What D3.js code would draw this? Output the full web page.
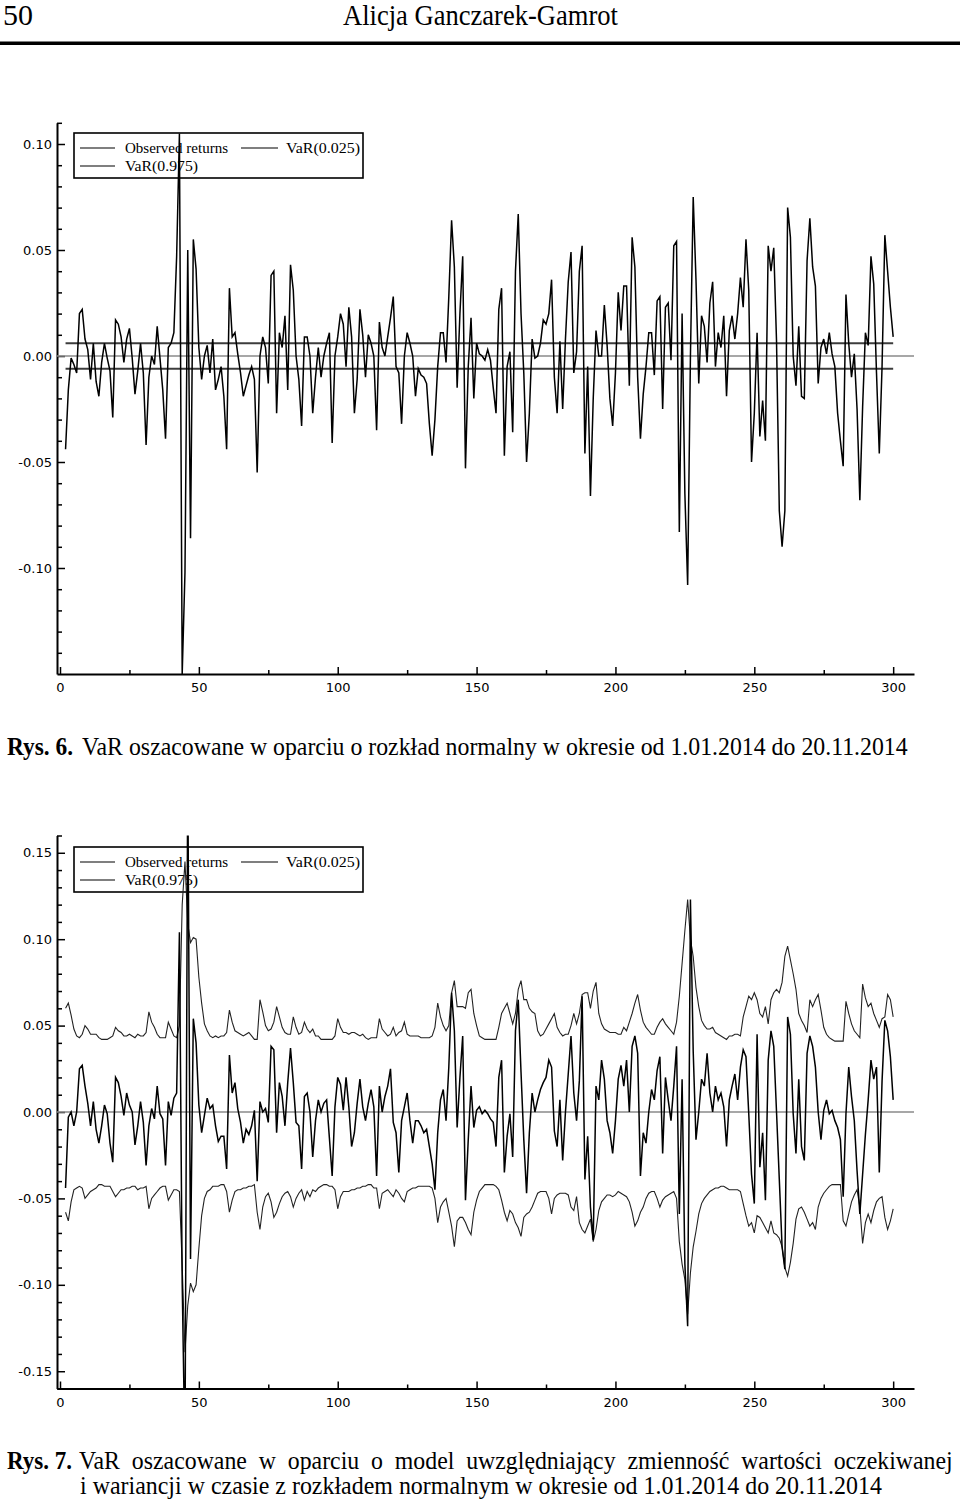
<!DOCTYPE html>
<html><head><meta charset="utf-8">
<script src="https://cdn.jsdelivr.net/npm/d3@7/dist/d3.min.js"></script>
<style>
body{margin:0;background:#fff}
svg{display:block}
</style></head><body>
<svg id="page" width="960" height="1501"></svg>
<script>
// ---------------- data ----------------
const xTicks = [0, 50, 100, 150, 200, 250, 300];
const xMinorTicks = [25, 75, 125, 175, 225, 275];
const yTicks1 = [-0.10, -0.05, 0.00, 0.05, 0.10];
const yTicks2 = [-0.15, -0.10, -0.05, 0.00, 0.05, 0.10, 0.15];
const legendLabels = ["Observed returns", "VaR(0.025)", "VaR(0.975)"];
const firstIndex = 2; // first observation index (x value)

// Rys. 6 — observed returns (index 2..300)
const obs1 = [
-0.044,-0.016,-0.001,-0.004,-0.008,0.020,0.022,0.008,0.003,-0.011,
0.006,-0.012,-0.019,-0.003,0.006,-0.001,-0.007,-0.029,0.017,0.015,
0.009,-0.003,0.008,0.013,-0.001,-0.018,-0.007,0.006,-0.008,-0.042,
-0.010,0.000,-0.004,0.014,-0.001,-0.016,-0.039,0.004,0.006,0.011,
0.047,0.105,-0.150,-0.102,0.050,-0.086,0.055,0.041,0.004,-0.011,
0.000,0.005,-0.008,0.008,-0.016,-0.011,-0.005,-0.019,-0.044,0.032,
0.009,0.011,0.001,-0.008,-0.019,-0.014,-0.009,-0.005,-0.011,-0.055,
0.000,0.009,0.004,-0.013,0.038,0.040,-0.027,0.011,0.004,0.019,
-0.016,0.043,0.031,0.000,-0.011,-0.033,0.009,0.009,0.000,-0.027,
-0.010,0.004,-0.010,0.000,0.006,0.011,-0.041,0.000,0.009,0.020,
0.015,-0.005,0.023,0.009,-0.027,-0.011,0.022,0.010,-0.010,0.010,
0.006,0.000,-0.035,0.016,0.004,0.000,0.009,0.018,0.028,-0.005,
-0.008,-0.032,0.000,0.011,0.006,0.000,-0.019,-0.006,-0.009,-0.010,
-0.013,-0.032,-0.047,-0.030,-0.005,0.011,0.011,-0.003,0.028,0.064,
0.042,-0.015,0.020,0.047,-0.053,-0.005,0.018,-0.020,0.006,0.001,
0.000,-0.002,0.003,-0.002,-0.015,-0.027,0.022,0.032,-0.047,-0.005,
0.002,-0.036,0.040,0.067,0.020,-0.008,-0.050,-0.027,0.008,-0.001,
0.000,0.006,0.017,0.015,0.020,0.036,-0.010,-0.027,0.007,-0.025,
0.008,0.035,0.049,-0.008,0.002,0.040,0.052,-0.046,-0.005,-0.066,
-0.020,0.012,0.000,0.000,0.024,0.005,-0.020,-0.033,-0.008,0.030,
0.012,0.033,0.033,-0.014,0.056,0.042,-0.010,-0.039,-0.018,-0.005,
0.011,0.011,-0.009,0.026,0.028,-0.025,0.023,0.025,-0.002,0.052,
0.054,-0.083,0.020,-0.065,-0.108,0.000,0.075,0.036,-0.013,0.019,
0.014,-0.003,0.025,0.035,-0.005,0.011,0.004,0.019,-0.019,0.012,
0.019,0.008,0.020,0.037,0.023,0.055,0.031,-0.050,-0.027,0.011,
-0.038,-0.021,-0.040,0.052,0.040,0.051,0.007,-0.073,-0.090,-0.073,
0.070,0.056,0.000,-0.014,0.014,-0.019,-0.020,0.045,0.065,0.042,
0.033,-0.013,0.004,0.008,0.001,0.011,0.001,-0.005,-0.027,-0.040,
-0.052,0.029,0.006,-0.010,0.001,-0.025,-0.068,-0.024,0.011,0.005,
0.047,0.034,-0.008,-0.046,-0.005,0.057,0.040,0.023,0.009
];
// Rys. 6 — constant VaR levels
const var1Low = -0.006;
const var1High = 0.006;

// Rys. 7 — observed returns (index 2..300)
const obs2 = [
-0.044,-0.003,0.000,-0.008,0.000,0.025,0.027,0.015,0.005,-0.008,
0.006,-0.010,-0.018,-0.008,0.004,-0.001,-0.018,-0.029,0.020,0.017,
0.009,-0.002,0.011,0.004,0.000,-0.019,-0.008,0.006,-0.006,-0.031,
-0.008,0.002,-0.004,0.015,-0.001,-0.004,-0.031,0.006,-0.002,0.008,
0.011,0.104,-0.099,-0.200,0.200,-0.085,0.054,0.040,0.004,-0.012,
-0.002,0.008,0.002,0.004,-0.008,-0.017,-0.014,-0.014,-0.033,0.033,
0.011,0.017,0.002,-0.006,-0.018,-0.010,-0.013,-0.008,0.001,-0.040,
0.006,0.000,0.002,-0.006,0.038,0.036,-0.012,0.017,0.009,-0.008,
0.017,0.037,0.017,-0.006,-0.008,-0.033,0.009,0.011,0.000,-0.026,
-0.005,0.007,0.000,0.005,0.007,-0.015,-0.037,0.003,0.020,0.016,
0.001,0.020,0.003,-0.020,-0.012,0.005,0.019,0.003,-0.005,0.005,
0.013,0.003,-0.037,0.015,0.000,0.009,0.015,0.025,-0.006,-0.012,
-0.035,-0.005,0.003,0.011,-0.005,-0.018,-0.005,-0.005,-0.008,-0.012,
-0.010,-0.020,-0.030,-0.045,-0.012,0.007,0.013,-0.005,0.026,0.069,
0.047,-0.009,0.020,0.044,-0.051,-0.016,0.015,-0.009,0.001,0.003,
-0.001,0.001,-0.001,-0.004,-0.006,-0.020,0.020,0.030,-0.035,-0.014,
-0.001,-0.026,0.047,0.065,0.023,-0.016,-0.047,-0.012,0.011,0.000,
0.007,0.013,0.017,0.020,0.030,0.026,-0.011,-0.020,0.007,-0.028,
0.000,0.022,0.044,0.011,-0.005,0.018,0.067,-0.039,-0.014,-0.055,
-0.074,0.015,0.007,0.030,0.019,-0.005,-0.012,-0.024,-0.005,0.019,
0.027,0.015,0.030,0.000,0.038,0.044,0.034,-0.037,-0.012,-0.018,
0.000,0.013,0.007,0.024,0.032,-0.024,0.020,0.007,-0.005,0.015,
0.038,-0.059,0.019,-0.088,-0.124,0.123,0.035,-0.016,0.000,0.019,
0.015,0.034,0.011,0.000,0.015,0.007,0.011,0.003,-0.020,0.007,
0.015,0.022,0.007,0.026,0.036,0.032,-0.001,-0.036,-0.053,0.045,
-0.032,-0.012,-0.051,0.030,0.047,0.038,0.000,-0.039,-0.078,-0.091,
0.055,0.045,-0.001,-0.024,0.019,-0.020,-0.028,0.034,0.044,0.038,
0.026,0.000,-0.016,0.001,0.007,-0.001,0.001,-0.005,-0.009,-0.016,
-0.049,-0.001,0.026,0.009,-0.005,-0.034,-0.059,-0.036,-0.013,0.007,
0.030,0.019,0.026,-0.035,0.018,0.053,0.047,0.032,0.007
];
// Rys. 7 — VaR(0.975) upper band
const var2High = [
0.060,0.063,0.056,0.048,0.044,0.043,0.045,0.050,0.048,0.045,
0.045,0.045,0.043,0.042,0.042,0.042,0.043,0.044,0.049,0.047,
0.046,0.044,0.044,0.045,0.044,0.043,0.045,0.044,0.044,0.046,
0.058,0.052,0.049,0.045,0.043,0.043,0.043,0.052,0.048,0.044,
0.043,0.050,0.120,0.145,0.109,0.098,0.101,0.100,0.078,0.063,
0.051,0.047,0.044,0.043,0.044,0.043,0.044,0.044,0.046,0.059,
0.052,0.047,0.046,0.045,0.044,0.045,0.046,0.044,0.042,0.042,
0.065,0.058,0.050,0.047,0.048,0.052,0.061,0.055,0.049,0.046,
0.045,0.045,0.055,0.049,0.045,0.046,0.052,0.048,0.046,0.048,
0.044,0.044,0.042,0.042,0.042,0.042,0.042,0.044,0.054,0.049,
0.046,0.046,0.045,0.046,0.046,0.045,0.044,0.045,0.043,0.042,
0.043,0.043,0.043,0.054,0.048,0.046,0.044,0.045,0.049,0.044,
0.046,0.047,0.052,0.045,0.044,0.044,0.044,0.044,0.043,0.043,
0.043,0.043,0.044,0.049,0.063,0.055,0.050,0.047,0.050,0.069,
0.076,0.061,0.061,0.061,0.060,0.069,0.071,0.057,0.050,0.044,
0.043,0.042,0.042,0.042,0.042,0.042,0.049,0.057,0.060,0.063,
0.057,0.051,0.057,0.071,0.076,0.065,0.065,0.060,0.058,0.057,
0.047,0.044,0.045,0.048,0.051,0.054,0.057,0.049,0.046,0.044,
0.045,0.045,0.050,0.057,0.051,0.057,0.068,0.069,0.069,0.060,
0.070,0.075,0.057,0.051,0.048,0.047,0.046,0.046,0.046,0.045,
0.045,0.049,0.047,0.052,0.057,0.063,0.068,0.059,0.052,0.049,
0.047,0.045,0.045,0.049,0.052,0.054,0.051,0.049,0.047,0.045,
0.052,0.067,0.086,0.105,0.123,0.100,0.090,0.072,0.061,0.053,
0.050,0.048,0.048,0.049,0.046,0.045,0.044,0.043,0.042,0.044,
0.044,0.045,0.045,0.044,0.055,0.061,0.067,0.065,0.069,0.065,
0.057,0.055,0.061,0.051,0.065,0.069,0.071,0.069,0.075,0.090,
0.096,0.088,0.080,0.071,0.057,0.053,0.050,0.046,0.065,0.061,
0.065,0.068,0.059,0.049,0.045,0.043,0.042,0.041,0.041,0.041,
0.041,0.064,0.057,0.051,0.047,0.045,0.043,0.074,0.066,0.061,
0.063,0.057,0.053,0.049,0.054,0.055,0.068,0.065,0.055
];
// Rys. 7 — VaR(0.025) lower band
const var2Low = [
-0.058,-0.063,-0.052,-0.045,-0.044,-0.043,-0.044,-0.050,-0.048,-0.046,
-0.045,-0.044,-0.042,-0.042,-0.043,-0.043,-0.043,-0.046,-0.049,-0.047,
-0.045,-0.045,-0.044,-0.044,-0.043,-0.043,-0.045,-0.044,-0.044,-0.043,
-0.056,-0.050,-0.048,-0.046,-0.044,-0.043,-0.043,-0.051,-0.048,-0.045,
-0.045,-0.046,-0.089,-0.139,-0.112,-0.099,-0.104,-0.100,-0.079,-0.060,
-0.050,-0.046,-0.045,-0.043,-0.043,-0.043,-0.042,-0.042,-0.046,-0.058,
-0.051,-0.046,-0.045,-0.045,-0.044,-0.044,-0.043,-0.043,-0.042,-0.058,
-0.068,-0.055,-0.049,-0.047,-0.052,-0.061,-0.058,-0.053,-0.049,-0.047,
-0.046,-0.049,-0.055,-0.050,-0.047,-0.045,-0.051,-0.046,-0.049,-0.045,
-0.046,-0.044,-0.043,-0.042,-0.042,-0.043,-0.043,-0.045,-0.056,-0.049,
-0.046,-0.046,-0.046,-0.045,-0.045,-0.044,-0.044,-0.043,-0.043,-0.042,
-0.042,-0.044,-0.044,-0.056,-0.047,-0.046,-0.045,-0.047,-0.049,-0.045,
-0.047,-0.050,-0.052,-0.046,-0.045,-0.044,-0.044,-0.043,-0.043,-0.043,
-0.043,-0.043,-0.044,-0.050,-0.064,-0.055,-0.052,-0.050,-0.058,-0.066,
-0.078,-0.063,-0.061,-0.061,-0.064,-0.068,-0.071,-0.058,-0.051,-0.046,
-0.044,-0.042,-0.042,-0.042,-0.042,-0.043,-0.045,-0.051,-0.058,-0.063,
-0.057,-0.059,-0.064,-0.067,-0.072,-0.061,-0.059,-0.058,-0.055,-0.051,
-0.047,-0.046,-0.046,-0.046,-0.050,-0.059,-0.050,-0.048,-0.047,-0.047,
-0.047,-0.048,-0.055,-0.057,-0.049,-0.064,-0.068,-0.070,-0.066,-0.062,
-0.075,-0.068,-0.057,-0.052,-0.050,-0.048,-0.048,-0.049,-0.048,-0.046,
-0.047,-0.048,-0.049,-0.052,-0.058,-0.066,-0.063,-0.058,-0.055,-0.050,
-0.047,-0.046,-0.046,-0.050,-0.055,-0.051,-0.049,-0.048,-0.047,-0.046,
-0.050,-0.075,-0.088,-0.097,-0.117,-0.093,-0.078,-0.069,-0.059,-0.053,
-0.050,-0.048,-0.046,-0.045,-0.044,-0.044,-0.043,-0.043,-0.044,-0.045,
-0.045,-0.045,-0.045,-0.046,-0.053,-0.060,-0.066,-0.064,-0.070,-0.060,
-0.061,-0.064,-0.067,-0.070,-0.063,-0.070,-0.071,-0.073,-0.078,-0.090,
-0.095,-0.087,-0.076,-0.062,-0.056,-0.055,-0.058,-0.062,-0.066,-0.064,
-0.068,-0.055,-0.050,-0.047,-0.045,-0.043,-0.042,-0.042,-0.042,-0.042,
-0.063,-0.066,-0.059,-0.052,-0.048,-0.045,-0.055,-0.076,-0.064,-0.059,
-0.064,-0.057,-0.052,-0.050,-0.049,-0.061,-0.068,-0.063,-0.056
];

// ---------------- drawing ----------------
const svg = d3.select('#page');
svg.append('rect').attr('width', 960).attr('height', 1501).attr('fill', '#fff');

function fitText(parent, o) {
  const t = parent.append('text')
    .attr('font-family', o.family || 'Liberation Serif')
    .attr('font-size', o.size)
    .attr('font-weight', o.weight || 'normal')
    .attr('fill', '#000')
    .text(o.text);
  const w = t.node().getComputedTextLength();
  let sx = o.width ? o.width / w : 1;
  if (o.justify) {
    sx = o.scale;
    const n = (o.text.match(/ /g) || []).length;
    t.style('word-spacing', ((o.width / sx - w) / n) + 'px');
  }
  const x0 = o.anchor === 'middle' ? o.x - o.width / 2 : o.x;
  t.attr('transform', `translate(${x0},${o.y}) scale(${sx},1)`);
  return sx;
}

// page header
fitText(svg, {text: '50', x: 3, y: 25, size: 29, width: 30});
fitText(svg, {text: 'Alicja Ganczarek-Gamrot', x: 343, y: 25, size: 29, width: 275});
svg.append('rect').attr('x', 0).attr('y', 41.5).attr('width', 960).attr('height', 3.5).attr('fill', '#000');

// shared x scale
const x = d3.scaleLinear().domain([-1.08, 307.5]).range([57, 914]);
const fmt = d => (Math.abs(d) < 1e-9 ? 0 : d).toFixed(2);

function drawChart(cfg) {
  const g = svg.append('g');
  const y = d3.scaleLinear().domain(cfg.yDomain).range([cfg.bottom, cfg.top]);
  const id = 'clip' + cfg.name;
  svg.append('defs').append('clipPath').attr('id', id)
    .append('rect').attr('x', 57).attr('y', cfg.top).attr('width', 914 - 57).attr('height', cfg.bottom - cfg.top);

  // minor ticks
  const minorY = d3.range(Math.round(cfg.yDomain[0] * 100), Math.round(cfg.yDomain[1] * 100) + 1)
    .filter(k => k % 5 !== 0).map(k => k / 100);
  g.append('g').attr('transform', 'translate(57,0)')
    .call(d3.axisLeft(y).tickValues(minorY).tickSize(-5).tickFormat(''))
    .call(s => s.select('.domain').remove());
  g.append('g').attr('transform', `translate(0,${cfg.bottom})`)
    .call(d3.axisBottom(x).tickValues(xMinorTicks).tickSize(-4).tickFormat(''))
    .call(s => s.select('.domain').remove());

  // major axes
  const ya = g.append('g').attr('transform', 'translate(57,0)')
    .call(d3.axisLeft(y).tickValues(cfg.yTicks).tickSize(-8).tickSizeOuter(0).tickPadding(5).tickFormat(fmt));
  const xa = g.append('g').attr('transform', `translate(0,${cfg.bottom})`)
    .call(d3.axisBottom(x).tickValues(xTicks).tickSize(-7).tickSizeOuter(0).tickPadding(9).tickFormat(d3.format('d')));
  [ya, xa].forEach(a => {
    a.attr('font-family', 'DejaVu Sans').attr('font-size', 13);
    a.selectAll('text').attr('fill', '#000');
    a.select('.domain').attr('stroke', '#000').attr('stroke-width', 2);
  });
  g.selectAll('.tick line').attr('stroke', '#000').attr('stroke-width', 1.5);

  // legend
  const L = g.append('g');
  const lt = cfg.legendTop;
  L.append('rect').attr('x', 74).attr('y', lt).attr('width', 289).attr('height', 45)
    .attr('fill', 'none').attr('stroke', '#000').attr('stroke-width', 1.6);
  const items = [
    {x1: 80, x2: 115, tx: 125, ly: lt + 15, label: legendLabels[0], w: 103},
    {x1: 241, x2: 278, tx: 286, ly: lt + 15, label: legendLabels[1], w: 74},
    {x1: 80, x2: 115, tx: 125, ly: lt + 33, label: legendLabels[2], w: 73}
  ];
  items.forEach(it => {
    L.append('line').attr('x1', it.x1).attr('x2', it.x2).attr('y1', it.ly).attr('y2', it.ly)
      .attr('stroke', '#000').attr('stroke-width', 1.2);
    L.append('text').attr('x', it.tx).attr('y', it.ly + 5).attr('font-family', 'Liberation Serif')
      .attr('font-size', 15.5).attr('fill', '#000')
      .attr('textLength', it.w).attr('lengthAdjust', 'spacingAndGlyphs').text(it.label);
  });

  const plot = g.append('g').attr('clip-path', `url(#${id})`);
  // zero line
  plot.append('line').attr('x1', 57).attr('x2', 914).attr('y1', y(0)).attr('y2', y(0))
    .attr('stroke', '#8a8a8a').attr('stroke-width', 1.5);

  const line = d3.line().x((d, i) => x(i + firstIndex)).y(d => y(d));
  if (cfg.constLow !== undefined) {
    const last = firstIndex + cfg.obs.length - 1;
    [cfg.constLow, cfg.constHigh].forEach(v => {
      plot.append('line').attr('x1', x(firstIndex)).attr('x2', x(last))
        .attr('y1', y(v)).attr('y2', y(v)).attr('stroke', '#3c3c3c').attr('stroke-width', 2);
    });
  } else {
    [cfg.low, cfg.high].forEach(arr => {
      plot.append('path').attr('d', line(arr)).attr('fill', 'none')
        .attr('stroke', '#222').attr('stroke-width', 1.1);
    });
  }
  plot.append('path').attr('d', line(cfg.obs)).attr('fill', 'none')
    .attr('stroke', '#000').attr('stroke-width', 1.5).attr('stroke-linejoin', 'miter');
}

drawChart({name: 'a', yDomain: [-0.15, 0.11], top: 122.8, bottom: 674, yTicks: yTicks1,
  legendTop: 133, obs: obs1, constLow: var1Low, constHigh: var1High});
drawChart({name: 'b', yDomain: [-0.16, 0.16], top: 835.5, bottom: 1388.5, yTicks: yTicks2,
  legendTop: 847, obs: obs2, low: var2Low, high: var2High});

// captions
const capSize = 25;
fitText(svg, {text: 'Rys. 6.', x: 7, y: 755, size: capSize, weight: 'bold', width: 66});
const sc = fitText(svg, {text: 'VaR oszacowane w oparciu o rozkład normalny w okresie od 1.01.2014 do 20.11.2014',
  x: 82, y: 755, size: capSize, width: 826});
fitText(svg, {text: 'Rys. 7.', x: 7, y: 1469, size: capSize, weight: 'bold', width: 65});
fitText(svg, {text: 'VaR oszacowane w oparciu o model uwzględniający zmienność wartości oczekiwanej',
  x: 79, y: 1469, size: capSize, width: 874, justify: true, scale: sc});
fitText(svg, {text: 'i wariancji w czasie z rozkładem normalnym w okresie od 1.01.2014 do 20.11.2014',
  x: 481, y: 1494, size: capSize, width: 802, anchor: 'middle'});
</script>
</body></html>
